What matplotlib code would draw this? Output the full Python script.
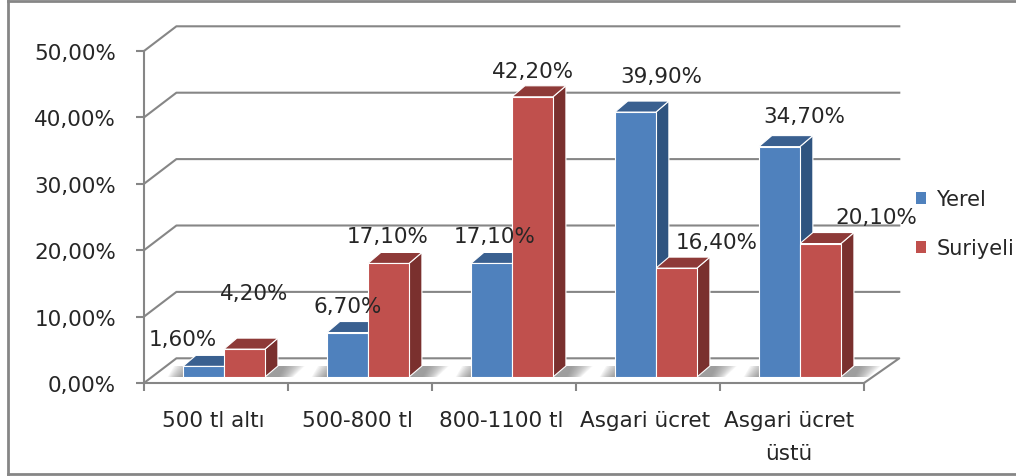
import matplotlib
matplotlib.use("Agg")
import matplotlib.pyplot as plt
from matplotlib.lines import Line2D
from matplotlib.patches import Patch, Polygon

# Data
categories = ["500 tl altı", "500-800 tl", "800-1100 tl", "Asgari ücret", "Asgari ücret\nüstü"]
yerel = [1.6, 6.7, 17.1, 39.9, 34.7]
suriyeli = [4.2, 17.1, 42.2, 16.4, 20.1]
yticks = [0, 10, 20, 30, 40, 50]

# 3D look, in data units
bar_w = 0.285
depth_x, depth_y = 0.09, 1.66
wall_x, wall_y = 0.225, 3.72
wall_end = 5.245
base_x, base_y = 0.055, 0.9

# hand placed label offsets in px (the labels do not follow a rule in the original)
blue_nudge = [(-21, 27), (0, 27), (3, 27), (26, 36), (25, 31)]
red_nudge = [(10, 56), (-1, 27), (1, 26), (40, 26), (56, 27)]

grid_col = "#868686"
text_col = "#262626"
plt.rcParams["font.family"] = "DejaVu Sans"

fig = plt.figure(figsize=(10.16, 4.77), dpi=100)
ax = fig.add_axes([144 / 1016, 1 - 384 / 477, 720 / 1016, 332 / 477])
ax.set_xlim(0, 5)
ax.set_ylim(0, 50)
ax.patch.set_visible(False)
for s in ["top", "right"]:
    ax.spines[s].set_visible(False)
for s in ["left", "bottom"]:
    ax.spines[s].set_color(grid_col)
    ax.spines[s].set_linewidth(1.5)

ax.set_yticks(yticks)
ax.set_yticklabels([f"{v},00%" for v in yticks], fontsize=15.5, color=text_col)
ax.set_xticks(range(6))
ax.set_xticklabels([])
ax.set_xticks([i + 0.48 for i in range(5)], categories, minor=True, fontsize=15.5,
              color=text_col, linespacing=1.8, va="top")
ax.tick_params(axis="y", length=6, width=1.5, color=grid_col, pad=14)
ax.tick_params(axis="x", which="major", length=6, width=1.5, color=grid_col)
ax.tick_params(axis="x", which="minor", length=0, pad=19.5)

# walls: diagonal + horizontal line for each grid value
for v in yticks:
    if v == 0:
        continue
    ax.plot([0, wall_x, wall_end], [v, v + wall_y, v + wall_y], color=grid_col,
            lw=1.5, clip_on=False, zorder=1)
ax.plot([0, wall_x, wall_end, 5], [0, wall_y, wall_y, 0], color=grid_col, lw=1.5,
        clip_on=False, zorder=1)


def floor_shadow(x0, x1):
    # soft shadow, stacked thin polygons so it fades outwards
    steps = 14
    for k in range(steps):
        grow = 0.15 * (1 - k / steps)
        ax.add_patch(Polygon([(x0 - grow * 0.7, base_y), (x1 + grow * 0.7, base_y),
                              (x1 + grow + depth_x * 0.4, base_y + depth_y),
                              (x0 - grow + depth_x, base_y + depth_y)],
                             fc="#6f6f6f", ec="none", alpha=0.07, clip_on=False, zorder=2))


def bar3d(x, v, front, top, side):
    y0, y1 = base_y, base_y + v
    ax.add_patch(Polygon([(x + bar_w, y0), (x + bar_w + depth_x, y0 + depth_y),
                          (x + bar_w + depth_x, y1 + depth_y), (x + bar_w, y1)],
                         fc=side, ec="white", lw=0.8, clip_on=False, zorder=3))
    ax.add_patch(Polygon([(x, y1), (x + bar_w, y1), (x + bar_w + depth_x, y1 + depth_y),
                          (x + depth_x, y1 + depth_y)],
                         fc=top, ec="white", lw=0.8, clip_on=False, zorder=3))
    ax.add_patch(Polygon([(x, y0), (x + bar_w, y0), (x + bar_w, y1), (x, y1)],
                         fc=front, ec="white", lw=0.8, clip_on=False, zorder=4))


for i in range(5):
    center = i + 0.5 + base_x
    floor_shadow(center - bar_w, center + bar_w + depth_x)
    bar3d(center - bar_w, yerel[i], "#4F81BD", "#3A6090", "#2F5480")
    bar3d(center, suriyeli[i], "#C0504D", "#8E3A38", "#7A302E")

    for vals, x, nudge in [(yerel, center - bar_w / 2, blue_nudge), (suriyeli, center + bar_w / 2, red_nudge)]:
        ax.annotate(f"{vals[i]:.2f}%".replace(".", ","), (x, base_y + vals[i]),
                    xytext=(nudge[i][0] * 0.72, nudge[i][1] * 0.72), textcoords="offset points",
                    ha="center", va="center", fontsize=15.5, color=text_col, zorder=6,
                    annotation_clip=False)

handles = [Patch(fc="#4F81BD", label="Yerel"), Patch(fc="#C0504D", label="Suriyeli")]
ax.legend(handles=handles, loc="center left", bbox_to_anchor=(1.0, 0.48), frameon=False,
          fontsize=15, handlelength=0.5, handleheight=0.5, handletextpad=0.48,
          labelspacing=1.4, labelcolor=text_col, borderpad=0, borderaxespad=2.5)

# outer chart frame
for xs, ys in [([8, 8], [2, 475]), ([8, 1016], [2, 2]), ([8, 1016], [475, 475])]:
    fig.add_artist(Line2D([x / 1016 for x in xs], [1 - y / 477 for y in ys], color=grid_col, lw=2))

fig.savefig("out.png", dpi=100)
